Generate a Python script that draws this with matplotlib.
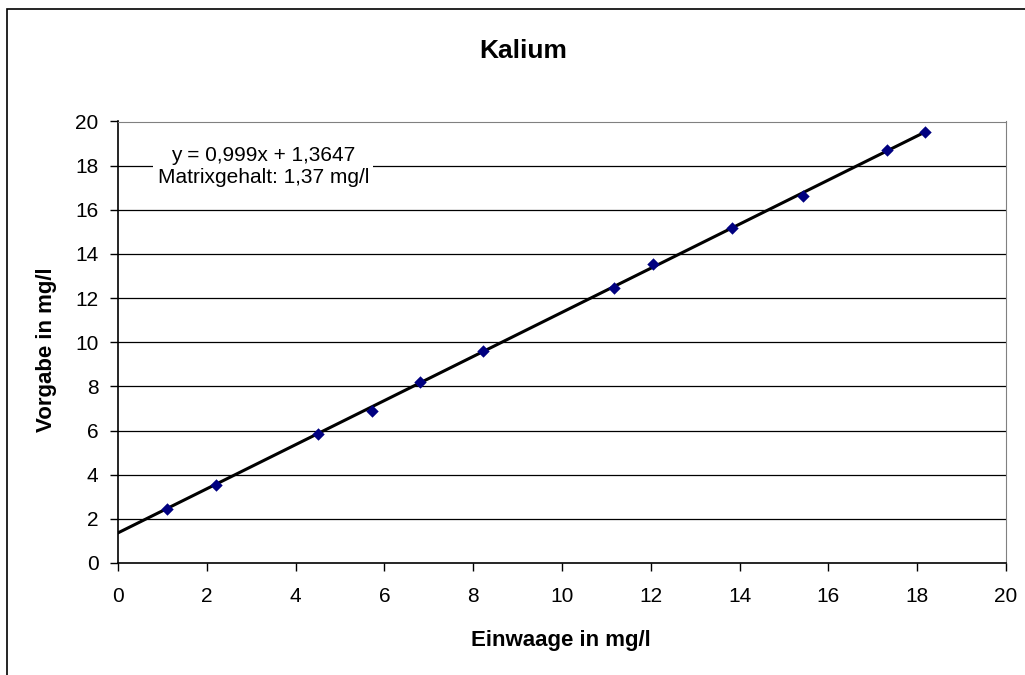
import matplotlib
matplotlib.use('Agg')
import matplotlib.pyplot as plt
from matplotlib.patches import Rectangle

plt.rcParams['font.family'] = ['Liberation Sans', 'DejaVu Sans']

einwaage = [1.10, 2.21, 4.51, 5.71, 6.80, 8.21, 11.17, 12.04, 13.84, 15.42, 17.33, 18.17]
vorgabe = [2.45, 3.52, 5.84, 6.90, 8.21, 9.61, 12.47, 13.56, 15.18, 16.62, 18.71, 19.54]

# Trendlinie
slope = 0.999
intercept = 1.3647
trend_x = [0, max(einwaage)]
trend_y = [intercept + slope * v for v in trend_x]

ticks = list(range(0, 21, 2))

W, H = 1025, 675
fig = plt.figure(figsize=(W / 100, H / 100), dpi=100)
ax = fig.add_axes([118/W, 112/H, 888/W, 441.5/H])

# Rahmen des Diagrammbereichs (rechts/unten abgeschnitten)
fig.patches.append(Rectangle((7/W, -0.1), 1.2, (H-9)/H + 0.1, transform=fig.transFigure,
                             fill=False, edgecolor='black', linewidth=1.2))

for t in ticks[1:]:
    ax.axhline(t, color='black', linewidth=0.9, zorder=1)

ax.plot(trend_x, trend_y, color='black', linewidth=2.2, zorder=3)
ax.scatter(einwaage, vorgabe, marker='D', s=40, color='#000080', zorder=4, linewidths=0)

ax.set_xlim(0, 20)
ax.set_ylim(0, 20)
ax.set_xticks(ticks)
ax.set_yticks(ticks)
ax.tick_params(direction='out', length=6, width=1, labelsize=15)
ax.tick_params(axis='x', pad=11)
ax.tick_params(axis='y', pad=8)

ax.spines['top'].set_color('#808080')
ax.spines['right'].set_color('#808080')
ax.spines['left'].set_linewidth(1.2)
ax.spines['bottom'].set_linewidth(1.2)

# Beschriftungen
fig.text(523/W, 1 - 58/H, 'Kalium', fontsize=19, fontweight='bold', ha='center', va='baseline')
fig.text(561/W, 1 - 646/H, 'Einwaage in mg/l', fontsize=16, fontweight='bold',
         ha='center', va='baseline')
fig.text(47/W, 1 - 350/H, 'Vorgabe in mg/l', fontsize=16, fontweight='bold',
         ha='center', va='center', rotation=90)

ax.text(3.27, 17.96, 'y = 0,999x + 1,3647\nMatrixgehalt: 1,37 mg/l', fontsize=15,
        ha='center', va='center', linespacing=1.2, zorder=5,
        bbox=dict(facecolor='white', edgecolor='none', pad=3))

fig.savefig('out.png', dpi=100)
